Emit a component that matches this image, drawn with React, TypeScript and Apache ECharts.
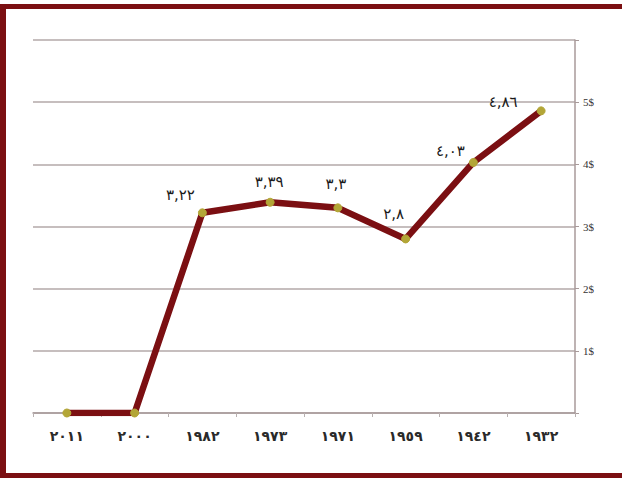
import React, { useEffect, useRef } from "react";
import * as echarts from "echarts";

const categories = ["٢٠١١", "٢٠٠٠", "١٩٨٢", "١٩٧٣", "١٩٧١", "١٩٥٩", "١٩٤٢", "١٩٣٢"];
const values = [0, 0, 3.22, 3.39, 3.3, 2.8, 4.03, 4.86];
const valueLabels = ["", "", "٣,٢٢", "٣,٣٩", "٣,٣", "٢,٨", "٤,٠٣", "٤,٨٦"];
const yTickLabels = ["", "1$", "2$", "3$", "4$", "5$", ""];
const labelOffsets: number[][] = [
  [0, 0], [0, 0], [-22, 0], [-1, -2], [-2, -6], [-12, -7], [-23, 7], [-38, 9],
];

export default function App() {
  const ref = useRef<HTMLDivElement>(null);
  useEffect(() => {
    const chart = echarts.init(ref.current!, undefined, { renderer: "svg" });
    const red = "#7b0f12";
    chart.setOption({
      animation: false,
      backgroundColor: "#ffffff",
      grid: { left: 33, right: 47, top: 40, bottom: 65 },
      graphic: [
        { type: "rect", shape: { x: 0, y: 4, width: 622, height: 5 }, style: { fill: red } },
        { type: "rect", shape: { x: 0, y: 4, width: 6, height: 474 }, style: { fill: red } },
        { type: "rect", shape: { x: 0, y: 473, width: 622, height: 5 }, style: { fill: red } },
      ],
      xAxis: {
        type: "category",
        data: categories,
        boundaryGap: true,
        axisLine: { lineStyle: { color: "#a89a9a", width: 1.5 } },
        axisTick: { show: true, alignWithLabel: false, length: 4, lineStyle: { color: "#b8b0b0" } },
        axisLabel: {
          color: "#2a2a2a",
          fontSize: 14,
          fontWeight: "bold",
          fontFamily: "DejaVu Sans",
          margin: 16,
        },
      },
      yAxis: {
        type: "value",
        position: "right",
        min: 0,
        max: 6,
        interval: 1,
        axisLine: { show: true, lineStyle: { color: "#a89a9a", width: 1.5 } },
        axisTick: { show: true, length: 4, lineStyle: { color: "#a89a9a" } },
        splitLine: { lineStyle: { color: "#b3a8a8", width: 1.5 } },
        axisLabel: {
          color: "#333",
          fontSize: 11,
          fontFamily: "Liberation Serif",
          margin: 8,
          formatter: (v: number) => yTickLabels[Math.round(v)] ?? "",
        },
      },
      series: [
        {
          type: "line",
          data: values.map((v, i) => ({
            value: v,
            label: {
              show: valueLabels[i] !== "",
              formatter: valueLabels[i],
              offset: labelOffsets[i],
            },
          })),
          lineStyle: { color: red, width: 6.5 },
          itemStyle: { color: "#b3a637", borderColor: "#b3a637" },
          symbol: "circle",
          symbolSize: 8,
          label: {
            show: true,
            position: "top",
            distance: 6,
            color: "#1a1a1a",
            fontSize: 15,
            fontFamily: "DejaVu Sans",
          },
          z: 3,
        },
      ],
    });
    return () => chart.dispose();
  }, []);
  return (
    <div
      ref={ref}
      style={{ position: "fixed", left: 0, top: 0, width: 622, height: 478 }}
    />
  );
}
